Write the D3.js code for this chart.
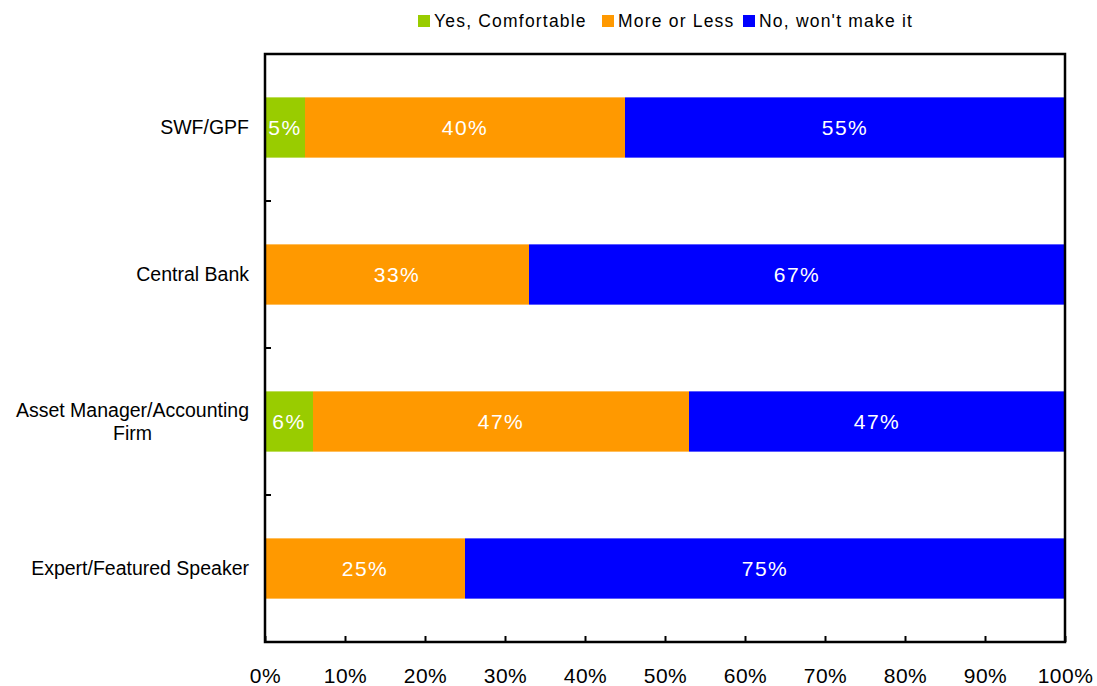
<!DOCTYPE html>
<html>
<head>
<meta charset="utf-8">
<script src="https://cdn.jsdelivr.net/npm/d3@7"></script>
<style>
  body { margin: 0; background: #fff; }
  svg { font-family: "Liberation Sans", Arial, sans-serif; }
</style>
</head>
<body>
<svg id="chart" width="1097" height="686"></svg>
<script>
// data
const categories = ["SWF/GPF", "Central Bank", "Asset Manager/Accounting Firm", "Expert/Featured Speaker"];
const categoryLines = [["SWF/GPF"], ["Central Bank"], ["Asset Manager/Accounting", "Firm"], ["Expert/Featured Speaker"]];
const seriesNames = ["Yes, Comfortable", "More or Less", "No, won't make it"];
const yesValues = [5, 0, 6, 0];
const moreLessValues = [40, 33, 47, 25];
const noValues = [55, 67, 47, 75];
const xTicks = [0, 10, 20, 30, 40, 50, 60, 70, 80, 90, 100];
const colors = ["#99cc00", "#ff9900", "#0000ff"];

const svg = d3.select("#chart");
const margin = { top: 54, right: 32, bottom: 44, left: 265 };
const width = 1097 - margin.left - margin.right;
const height = 686 - margin.top - margin.bottom;

const rows = categories.map((c, i) => ({
    cat: c, lines: categoryLines[i],
    yes: yesValues[i], more: moreLessValues[i], no: noValues[i]
}));
const stack = d3.stack().keys(["yes", "more", "no"]);
const layers = stack(rows);

const x = d3.scaleLinear().domain([0, 100]).range([0, width]);
const y = d3.scaleBand().domain(categories).range([0, height]).paddingInner(0.59).paddingOuter(0.295);

const g = svg.append("g").attr("transform", `translate(${margin.left},${margin.top})`);

// bars
const layer = g.selectAll("g.layer").data(layers).enter().append("g")
    .attr("class", "layer")
    .attr("fill", (d, i) => colors[i]);

layer.selectAll("rect").data(d => d.filter(s => s[1] - s[0] > 0)).enter().append("rect")
    .attr("x", d => x(d[0]))
    .attr("y", d => y(d.data.cat))
    .attr("width", d => x(d[1]) - x(d[0]))
    .attr("height", y.bandwidth());

layer.selectAll("text").data(d => d.filter(s => s[1] - s[0] > 0)).enter().append("text")
    .attr("x", d => x((d[0] + d[1]) / 2))
    .attr("y", d => y(d.data.cat) + y.bandwidth() / 2)
    .attr("dy", "0.36em")
    .attr("text-anchor", "middle")
    .attr("fill", "#fff")
    .style("font-size", "21px")
    .style("letter-spacing", "1.5px")
    .text(d => (d[1] - d[0]) + "%");

// frame
g.append("rect")
    .attr("x", 0).attr("y", 0)
    .attr("width", width).attr("height", height)
    .attr("fill", "none").attr("stroke", "#000").attr("stroke-width", 2.5);

// x axis
const xAxis = g.append("g").attr("transform", `translate(0,${height})`)
    .call(d3.axisBottom(x).tickValues(xTicks).tickSizeInner(-6).tickSizeOuter(0).tickPadding(26).tickFormat(d => d + "%"));
xAxis.select(".domain").remove();
xAxis.selectAll("line").attr("stroke", "#000").attr("stroke-width", 2);
xAxis.selectAll("text").style("font-size", "21px").style("letter-spacing", "0.5px").attr("fill", "#000").attr("font-family", null);

// y axis ticks between categories
const step = y.step();
const boundaries = d3.range(1, categories.length).map(i => i * step);
g.selectAll("line.ytick").data(boundaries).enter().append("line")
    .attr("class", "ytick")
    .attr("x1", 0).attr("x2", 6)
    .attr("y1", d => d).attr("y2", d => d)
    .attr("stroke", "#000").attr("stroke-width", 2);

// category labels (multi-line centered within right-aligned block)
const labelRight = -16;
const lineH = 23;
const labels = g.selectAll("g.cat").data(rows).enter().append("g")
    .attr("class", "cat");
labels.each(function(d) {
    const grp = d3.select(this);
    const n = d.lines.length;
    const cy = y(d.cat) + y.bandwidth() / 2;
    const texts = grp.selectAll("text").data(d.lines).enter().append("text")
        .attr("y", (l, i) => cy + (i - (n - 1) / 2) * lineH)
        .attr("dy", "0.35em")
        .attr("text-anchor", "middle")
        .style("font-size", "19.5px")
        .attr("fill", "#000")
        .text(l => l);
    let maxW = 0;
    texts.each(function() { maxW = Math.max(maxW, this.getComputedTextLength()); });
    texts.attr("x", labelRight - maxW / 2);
});

// legend
const legend = svg.append("g").attr("transform", "translate(0,21)");
const legendX = [418, 602, 743];
seriesNames.forEach((name, i) => {
    const item = legend.append("g").attr("transform", `translate(${legendX[i]},0)`);
    item.append("rect").attr("x", 0).attr("y", -6).attr("width", 12).attr("height", 12).attr("fill", colors[i]);
    item.append("text").attr("x", 16).attr("dy", "0.35em")
        .style("font-size", "17.5px").style("letter-spacing", "1.2px")
        .attr("fill", "#000").text(name);
});
</script>
</body>
</html>
